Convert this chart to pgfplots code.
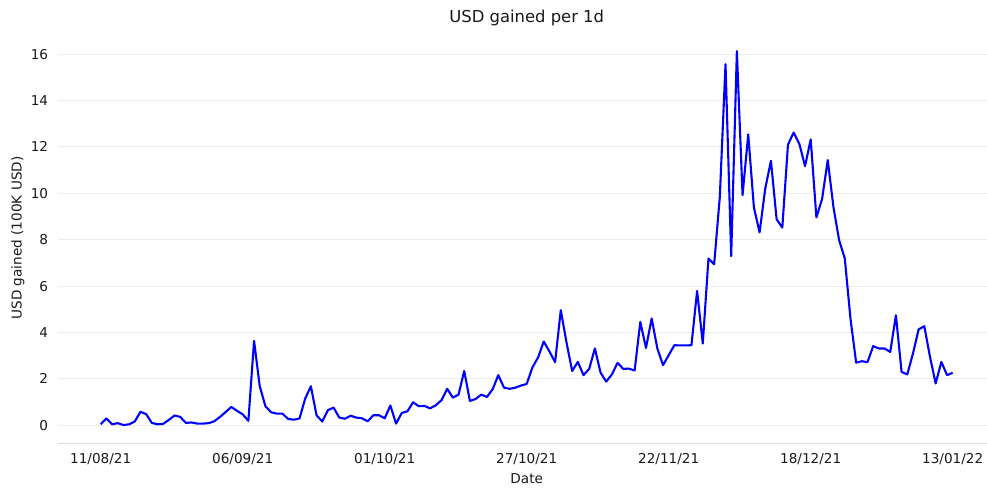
\documentclass[border=0pt]{standalone}
\usepackage{fontspec}
\setmainfont{DejaVu Sans}
\usepackage{pgfplots}
\pgfplotsset{compat=1.18}
\definecolor{txt}{gray}{0.1}
\definecolor{gridc}{HTML}{EBEBEB}
\definecolor{spinec}{HTML}{DDDDDD}
\begin{document}
\begin{tikzpicture}
\begin{axis}[
  at={(58.1pt,43.3pt)}, anchor=south west,
  scale only axis, width=937.2pt, height=411.3pt,
  xmin=-7.5, xmax=157.5, ymin=-0.796, ymax=16.936,
  axis x line*=bottom, axis y line*=left,
  y axis line style={draw=none},
  x axis line style={draw=spinec, line width=1pt, -},
  major tick length=0pt,
  ymajorgrids, grid style={draw=gridc, line width=0.9pt},
  xtick={0,25,...,150},
  xticklabels={11/08/21,06/09/21,01/10/21,27/10/21,22/11/21,18/12/21,13/01/22},
  ytick={0,2,...,16},
  /pgf/number format/assume math mode=true,
  tick label style={font=\fontsize{13.6}{16}\selectfont, text=txt},
  yticklabel style={anchor=east, inner sep=0pt, xshift=-9.8pt},
  xticklabel style={anchor=base, inner sep=0pt, yshift=-20.3pt},
  title={USD gained per 1d},
  title style={font=\fontsize{16.4}{19}\selectfont, text=txt, at={(axis description cs:0.5,1.0085)}, anchor=base, inner sep=0pt},
  xlabel={Date},
  xlabel style={font=\fontsize{13.6}{16}\selectfont, text=txt, at={(axis description cs:0.5,-0.0975)}, anchor=base, inner sep=0pt},
  ylabel={USD gained (100K USD)},
  ylabel style={font=\fontsize{13.6}{16}\selectfont, text=txt, at={(axis description cs:-0.0428,0.5)}, anchor=center, inner sep=0pt},
]
\addplot[color={rgb,255:red,0;green,0;blue,255}, line width=2.1pt, line join=round, mark=none] table {
x y
0 0.04
1 0.29
2 0.04
3 0.09
4 0.01
5 0.04
6 0.16
7 0.58
8 0.48
9 0.10
10 0.04
11 0.06
12 0.23
13 0.42
14 0.36
15 0.10
16 0.12
17 0.07
18 0.07
19 0.09
20 0.17
21 0.36
22 0.57
23 0.79
24 0.62
25 0.47
26 0.19
27 3.64
28 1.68
29 0.82
30 0.56
31 0.50
32 0.50
33 0.27
34 0.24
35 0.29
36 1.15
37 1.68
38 0.43
39 0.16
40 0.65
41 0.76
42 0.33
43 0.28
44 0.41
45 0.33
46 0.30
47 0.17
48 0.43
49 0.43
50 0.30
51 0.85
52 0.07
53 0.53
54 0.60
55 0.99
56 0.82
57 0.83
58 0.73
59 0.86
60 1.08
61 1.57
62 1.19
63 1.32
64 2.34
65 1.05
66 1.13
67 1.32
68 1.22
69 1.55
70 2.16
71 1.62
72 1.57
73 1.62
74 1.71
75 1.78
76 2.49
77 2.92
78 3.61
79 3.18
80 2.72
81 4.96
82 3.58
83 2.34
84 2.73
85 2.16
86 2.43
87 3.31
88 2.27
89 1.88
90 2.19
91 2.69
92 2.43
93 2.44
94 2.36
95 4.45
96 3.33
97 4.60
98 3.31
99 2.59
100 3.02
101 3.45
102 3.44
103 3.44
104 3.45
105 5.79
106 3.52
107 7.19
108 6.94
109 9.85
110 15.57
111 7.29
112 16.13
113 9.92
114 12.54
115 9.39
116 8.31
117 10.21
118 11.40
119 8.88
120 8.52
121 12.10
122 12.62
123 12.13
124 11.17
125 12.32
126 8.96
127 9.75
128 11.43
129 9.41
130 7.98
131 7.19
132 4.60
133 2.70
134 2.76
135 2.72
136 3.41
137 3.31
138 3.31
139 3.16
140 4.74
141 2.30
142 2.19
143 3.09
144 4.13
145 4.27
146 2.95
147 1.80
148 2.73
149 2.16
150 2.26
};
\end{axis}
\pgfresetboundingbox
\useasboundingbox (0,0) rectangle (987pt,487pt);
\end{tikzpicture}
\end{document}
